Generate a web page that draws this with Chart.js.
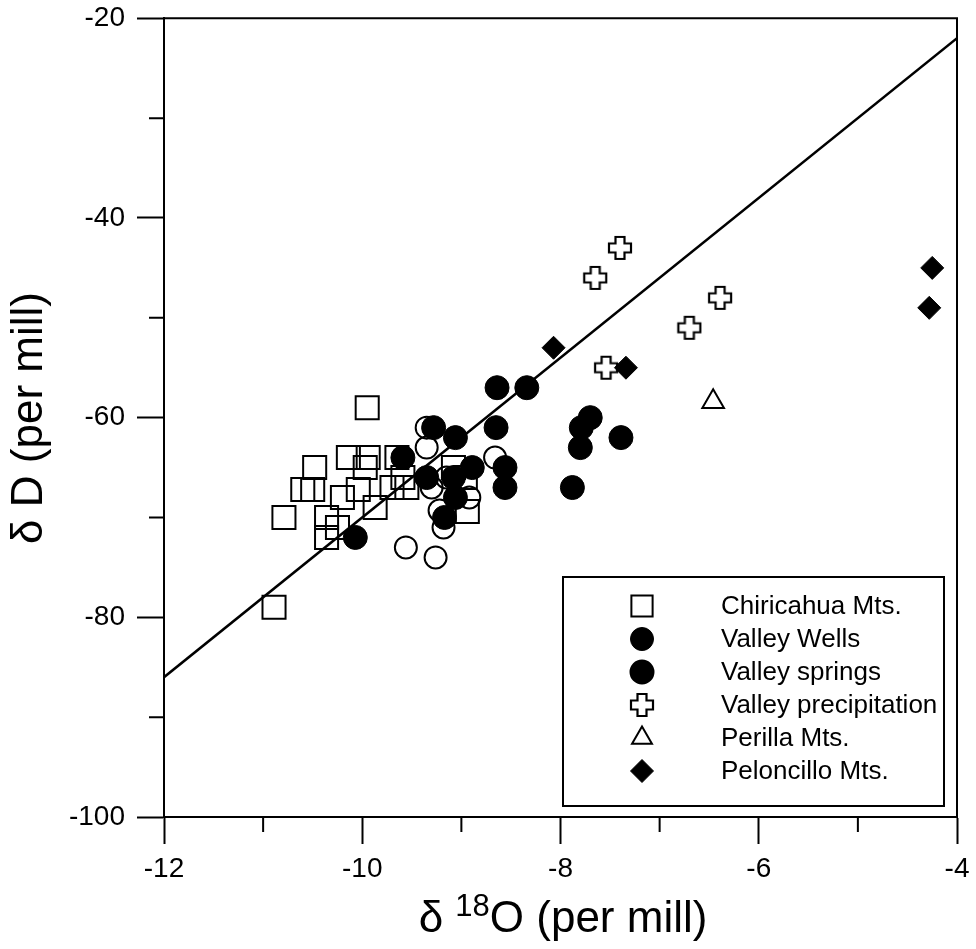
<!DOCTYPE html>
<html>
<head>
<meta charset="utf-8">
<script src="https://cdn.jsdelivr.net/npm/chart.js@4/dist/chart.umd.min.js"></script>
<style>
  html, body { margin: 0; padding: 0; background: #fff; }
  #plot { display: block; }
</style>
</head>
<body>
<canvas id="plot" width="976" height="949"></canvas>
<script>
// isotope samples: delta 18O and delta D (per mill)
const chiricahuaO = [-10.89, -10.79, -9.95, -10.48, -10.14, -9.94, -9.97, -10.6, -10.5, -10.2, -10.04, -9.87, -10.36, -10.25, -10.36, -9.65, -9.59, -9.7, -9.55, -9.08, -8.96, -8.94];
const chiricahuaD = [-79, -70, -59, -65, -64, -64, -65, -67.2, -67.2, -68, -67.2, -69, -70, -71, -72, -64, -66, -67, -67, -65, -66, -69.4];

const wellsO = [-10.07, -9.59, -9.28, -9.06, -8.64, -8.65, -8.34, -7.70, -7.79, -7.80, -7.39, -7.88, -8.56, -8.56, -9.35, -9.08, -8.89, -9.06, -9.17];
const wellsD = [-72, -64, -61, -62, -57, -61, -57, -60, -61, -63, -62, -67, -65, -67, -66, -66, -65, -68, -70];

const springsO = [-9.56, -9.26, -9.18, -9.22, -8.92, -9.3, -9.35, -9.35, -8.66, -9.15];
const springsD = [-73, -74, -71, -69.3, -68, -67, -61, -63, -64, -66];

const precipO = [-7.40, -7.65, -6.39, -6.70, -7.54];
const precipD = [-43, -46, -48, -51, -55];

const perillaO = [-6.46];
const perillaD = [-58.4];

const peloncilloO = [-8.07, -7.34, -4.25, -4.28];
const peloncilloD = [-53, -55, -45, -49];

// meteoric water line end points
const lineO = [-12, -4];
const lineD = [-86, -22];

const xMinorTicks = [-11, -9, -7, -5];
const yMinorTicks = [-30, -50, -70, -90];

const FONT = '"Liberation Sans", Arial, sans-serif';

const pts = (xs, ys) => xs.map((x, i) => ({ x, y: ys[i] }));

// open plus sign used for precipitation samples
function makePlus() {
  const c = document.createElement('canvas');
  c.width = 26; c.height = 26;
  const g = c.getContext('2d');
  const m = 13, a = 11, w = 4.5;
  g.beginPath();
  g.moveTo(m - w, m - a); g.lineTo(m + w, m - a); g.lineTo(m + w, m - w);
  g.lineTo(m + a, m - w); g.lineTo(m + a, m + w); g.lineTo(m + w, m + w);
  g.lineTo(m + w, m + a); g.lineTo(m - w, m + a); g.lineTo(m - w, m + w);
  g.lineTo(m - a, m + w); g.lineTo(m - a, m - w); g.lineTo(m - w, m - w);
  g.closePath();
  g.fillStyle = '#fff';
  g.fill();
  g.lineWidth = 2.2;
  g.strokeStyle = '#000';
  g.stroke();
  return c;
}
const plusImg = makePlus();

const datasets = [
  {
    label: 'Chiricahua Mts.', data: pts(chiricahuaO, chiricahuaD), order: 6,
    pointStyle: 'rect', pointRadius: 16.3, borderWidth: 2, borderColor: '#000', backgroundColor: 'rgba(0,0,0,0)'
  },
  {
    label: 'Valley Wells', data: pts(wellsO, wellsD), order: 3,
    pointStyle: 'circle', pointRadius: 12, borderWidth: 1, borderColor: '#000', backgroundColor: '#000'
  },
  {
    label: 'Valley springs', data: pts(springsO, springsD), order: 5,
    pointStyle: 'circle', pointRadius: 11, borderWidth: 2, borderColor: '#000', backgroundColor: 'rgba(0,0,0,0)',
    legendFill: '#000'
  },
  {
    label: 'Valley precipitation', data: pts(precipO, precipD), order: 2,
    pointStyle: plusImg, pointRadius: 12
  },
  {
    label: 'Perilla Mts.', data: pts(perillaO, perillaD), order: 2,
    pointStyle: 'triangle', pointRadius: 12.5, borderWidth: 2, borderColor: '#000', backgroundColor: '#fff'
  },
  {
    label: 'Peloncillo Mts.', data: pts(peloncilloO, peloncilloD), order: 1,
    pointStyle: 'rectRot', pointRadius: 11.5, borderWidth: 1, borderColor: '#000', backgroundColor: '#000'
  },
  {
    label: 'GMWL', data: pts(lineO, lineD), order: 4, showLine: true,
    pointRadius: 0, borderColor: '#000', borderWidth: 2.5, inLegend: false
  }
];

// minor ticks, top/right frame, axis titles and the boxed legend
const decorations = {
  id: 'decorations',
  afterDraw(chart) {
    const { ctx, chartArea: a, scales } = chart;
    ctx.save();
    ctx.strokeStyle = '#000';
    ctx.lineWidth = 2;

    ctx.beginPath();
    ctx.moveTo(a.left, a.top); ctx.lineTo(a.right, a.top); ctx.lineTo(a.right, a.bottom);
    xMinorTicks.forEach(v => {
      const px = scales.x.getPixelForValue(v);
      ctx.moveTo(px, a.bottom); ctx.lineTo(px, a.bottom + 15);
    });
    yMinorTicks.forEach(v => {
      const py = scales.y.getPixelForValue(v);
      ctx.moveTo(a.left - 15, py); ctx.lineTo(a.left, py);
    });
    ctx.stroke();

    // x title with superscript 18
    ctx.fillStyle = '#000';
    ctx.textBaseline = 'alphabetic';
    ctx.textAlign = 'left';
    const big = '44px ' + FONT, small = '31px ' + FONT;
    ctx.font = big; const w1 = ctx.measureText('\u03B4 ').width;
    ctx.font = small; const w2 = ctx.measureText('18').width;
    ctx.font = big; const w3 = ctx.measureText('O (per mill)').width;
    let tx = 563 - (w1 + w2 + w3) / 2;
    const base = 932;
    ctx.font = big; ctx.fillText('\u03B4 ', tx, base); tx += w1;
    ctx.font = small; ctx.fillText('18', tx, base - 16); tx += w2;
    ctx.font = big; ctx.fillText('O (per mill)', tx, base);

    // y title
    ctx.save();
    ctx.translate(30, 418);
    ctx.rotate(-Math.PI / 2);
    ctx.textAlign = 'center';
    ctx.textBaseline = 'middle';
    ctx.font = big;
    ctx.fillText('\u03B4 D (per mill)', 0, 0);
    ctx.restore();

    // legend box
    const box = { left: 563, top: 577, right: 944, bottom: 806 };
    ctx.lineWidth = 2;
    ctx.strokeRect(box.left, box.top, box.right - box.left, box.bottom - box.top);
    ctx.font = '26px ' + FONT;
    ctx.textBaseline = 'middle';
    ctx.textAlign = 'left';
    const entries = chart.data.datasets.filter(d => d.inLegend !== false);
    entries.forEach((d, i) => {
      const y = box.top + 29 + i * 33;
      ctx.save();
      ctx.fillStyle = d.legendFill || d.backgroundColor || '#000';
      ctx.strokeStyle = d.borderColor || '#000';
      ctx.lineWidth = d.borderWidth || 1;
      Chart.helpers.drawPoint(ctx, {
        pointStyle: d.pointStyle, radius: d.pointStyle === 'rect' ? 15 : 11.5,
        rotation: 0, borderWidth: d.borderWidth || 1
      }, 642, y);
      ctx.restore();
      ctx.fillStyle = '#000';
      ctx.fillText(d.label, 721, y + 1);
    });
    ctx.restore();
  }
};

const axisCommon = {
  type: 'linear',
  grid: { drawOnChartArea: false, drawTicks: true, tickLength: 27, tickWidth: 2, tickColor: '#000' },
  border: { display: true, width: 2, color: '#000' }
};

new Chart(document.getElementById('plot'), {
  type: 'scatter',
  data: { datasets },
  options: {
    responsive: false,
    animation: false,
    devicePixelRatio: 1,
    layout: { padding: { left: 0, top: 18, right: 19, bottom: 0 } },
    plugins: { legend: { display: false }, tooltip: { enabled: false } },
    scales: {
      x: {
        ...axisCommon,
        min: -12, max: -4,
        ticks: { stepSize: 2, color: '#000', padding: 8, font: { family: FONT, size: 28 } },
        afterFit: s => { s.height = 132; s.paddingLeft = 0; s.paddingRight = 0; }
      },
      y: {
        ...axisCommon,
        min: -100, max: -20,
        ticks: { stepSize: 20, color: '#000', padding: 12, font: { family: FONT, size: 28 } },
        afterFit: s => { s.width = 164; s.paddingTop = 0; s.paddingBottom = 0; }
      }
    }
  },
  plugins: [decorations]
});
</script>
</body>
</html>
